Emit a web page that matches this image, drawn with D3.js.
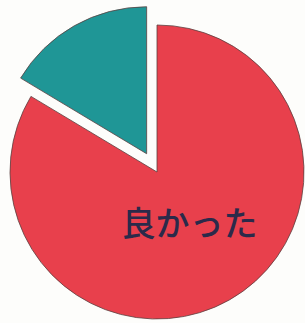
<!DOCTYPE html>
<html>
<head>
<meta charset="utf-8">
<script src="https://cdn.jsdelivr.net/npm/d3@7"></script>
<style>
  body { margin: 0; background: #fdfdfb; }
  svg { display: block; }
</style>
</head>
<body>
<svg id="pie" width="305" height="323"></svg>
<script>
// answers and their share (%)
var labels = ['良かった', ''];
var values = [83.6, 16.4];
var colors = ['#e8404c', '#1f9696'];

var svg = d3.select('#pie');
var cx = 157, cy = 172, r = 147;

var pie = d3.pie().sort(null).value(function(d) { return d; });
var arcs = pie(values);

var arc = d3.arc().innerRadius(0).outerRadius(r);
var labelArc = d3.arc().innerRadius(60).outerRadius(60);

var g = svg.append('g').attr('transform', 'translate(' + cx + ',' + cy + ')');

g.selectAll('path')
    .data(arcs)
    .enter()
    .append('path')
    .attr('d', arc)
    .attr('fill', function(d, i) { return colors[i]; })
    .attr('stroke', '#5a4040')
    .attr('stroke-width', 0.8)
    .attr('transform', function(d, i) {
        if (i == 0) return null;
        // pull the small slice out along its middle
        var mid = (d.startAngle + d.endAngle) / 2;
        return 'translate(' + (Math.sin(mid) * 21) + ',' + (-Math.cos(mid) * 21) + ')';
    });

g.append('text')
    .attr('transform', 'translate(' + labelArc.centroid(arcs[0]) + ')')
    .attr('x', 3)
    .attr('text-anchor', 'middle')
    .attr('dy', '0.36em')
    .attr('font-family', '"Noto Sans CJK JP", sans-serif')
    .attr('font-weight', 500)
    .attr('font-size', 34)
    .attr('fill', '#2b2a4a')
    .text(labels[0]);
</script>
</body>
</html>
